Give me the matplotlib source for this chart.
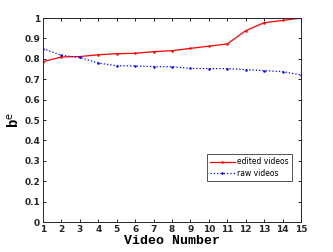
import matplotlib
matplotlib.use("Agg")
import matplotlib.pyplot as plt

videos = list(range(1, 16))
edited = [0.786, 0.809, 0.811, 0.820, 0.825, 0.827, 0.835, 0.840, 0.851, 0.862,
          0.873, 0.938, 0.977, 0.988, 1.000]
raw = [0.850, 0.817, 0.807, 0.779, 0.766, 0.765, 0.762, 0.761, 0.753, 0.752,
       0.752, 0.747, 0.742, 0.737, 0.721]
yticks = [0, 0.1, 0.2, 0.3, 0.4, 0.5, 0.6, 0.7, 0.8, 0.9, 1]
ytick_labels = ["0", "0.1", "0.2", "0.3", "0.4", "0.5", "0.6", "0.7", "0.8", "0.9", "1"]

fig = plt.figure(figsize=(3.33, 2.52), dpi=100)
ax = fig.add_axes([43 / 333, 1 - 222 / 252, 258 / 333, 204 / 252])

ax.plot(videos, edited, color="red", linestyle="-", marker=".", markersize=1.6,
        linewidth=0.9, label="edited videos")
ax.plot(videos, raw, color="blue", linestyle=":", marker=".", markersize=1.6,
        linewidth=0.9, label="raw videos")

ax.set_xlim(1, 15)
ax.set_ylim(0, 1)
ax.set_xticks(videos)
ax.set_yticks(yticks)
ax.set_yticklabels(ytick_labels)
ax.tick_params(direction="in", length=2.5, width=0.6, top=True, right=True,
               labelsize=6.5, pad=2)
for lbl in ax.get_xticklabels() + ax.get_yticklabels():
    lbl.set_fontweight("bold")
    lbl.set_color("#262626")
for sp in ax.spines.values():
    sp.set_linewidth(0.7)
    sp.set_color("#262626")

ax.set_xlabel("Video Number", family="Liberation Mono", fontweight="bold",
              fontsize=9.5, labelpad=1)
ax.set_ylabel(r"b$^{\mathrm{e}}$", family="Liberation Mono", fontweight="bold",
              fontsize=10, labelpad=2)

leg = ax.legend(loc="lower right", bbox_to_anchor=(0.965, 0.2), fontsize=5.5,
                frameon=True, fancybox=False, edgecolor="#262626",
                handlelength=3.2, borderpad=0.45, labelspacing=0.3,
                handletextpad=0.3, borderaxespad=0)
leg.get_frame().set_linewidth(0.7)

fig.savefig("out.png", dpi=100)
